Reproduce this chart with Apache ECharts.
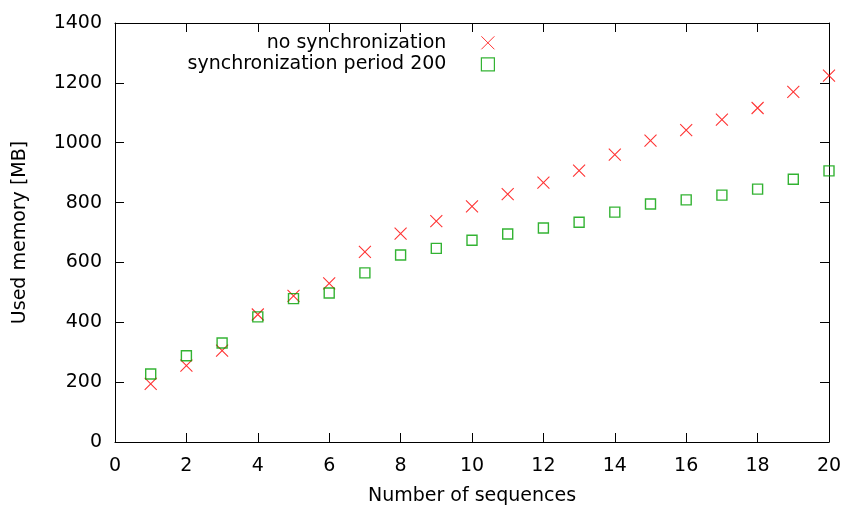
<!DOCTYPE html>
<html>
<head>
<meta charset="utf-8">
<style>
  html, body { margin: 0; padding: 0; background: #fff; }
  #chart { width: 845px; height: 511px; }
</style>
<script src="https://cdn.jsdelivr.net/npm/echarts@6/dist/echarts.min.js"></script>
</head>
<body>
<div id="chart"></div>
<script>
// Number of sequences processed
var sequences = [1, 2, 3, 4, 5, 6, 7, 8, 9, 10, 11, 12, 13, 14, 15, 16, 17, 18, 19, 20];
// Used memory [MB] without synchronization
var memNoSync = [194, 255, 305, 426, 488, 530, 635, 696, 738, 787, 828, 867, 907, 960, 1007, 1042, 1077, 1116, 1170, 1224];
// Used memory [MB] with synchronization period 200
var memSync200 = [227, 288, 331, 418, 479, 498, 565, 625, 647, 674, 695, 715, 734, 768, 795, 809, 825, 845, 878, 906];

var seriesNames = ['no synchronization', 'synchronization period 200'];
var xTicks = { min: 0, max: 20, interval: 2 };
var yTicks = { min: 0, max: 1400, interval: 200 };

var FONT = 'DejaVu Sans';
var FS = 19;
var CROSS = 'path://M0,0L10,10M10,0L0,10';
var SQUARE = 'path://M0,0H10V10H0Z';

function pairs(xs, ys) {
  return xs.map(function (x, i) { return [x, ys[i]]; });
}

function plain(v) { return String(v); }

function frameAxis(base, extra) {
  var a = {
    type: 'value',
    min: base.min, max: base.max, interval: base.interval,
    axisLine: { show: true, onZero: false, lineStyle: { color: '#000', width: 1 } },
    axisTick: { show: true, inside: true, length: 9, lineStyle: { color: '#000', width: 1 } },
    splitLine: { show: false },
    axisLabel: { show: false }
  };
  for (var k in extra) a[k] = extra[k];
  return a;
}

var chart = echarts.init(document.getElementById('chart'), null, { renderer: 'canvas' });

chart.setOption({
  animation: false,
  backgroundColor: '#fff',
  textStyle: { fontFamily: FONT },
  grid: { left: 115, right: 16, top: 23, bottom: 67, containLabel: false },
  legend: {
    orient: 'vertical',
    align: 'right',
    right: 345,
    top: 27,
    itemWidth: 13,
    itemHeight: 13,
    itemGap: 0,
    selectedMode: false,
    textStyle: { fontFamily: FONT, fontSize: FS, color: '#000', lineHeight: 21.6, padding: [0, 30, 0, 0] },
    data: [
      { name: seriesNames[0], icon: CROSS, itemStyle: { color: 'rgba(0,0,0,0)', borderColor: '#ff0000', borderWidth: 1 } },
      { name: seriesNames[1], icon: SQUARE, itemStyle: { color: 'rgba(0,0,0,0)', borderColor: '#00a000', borderWidth: 1.2 } }
    ]
  },
  xAxis: [
    frameAxis(xTicks, {
      position: 'bottom',
      name: 'Number of sequences',
      nameLocation: 'middle',
      nameGap: 45,
      nameTextStyle: { fontFamily: FONT, fontSize: FS, color: '#000' },
      axisLabel: { show: true, margin: 15, fontFamily: FONT, fontSize: FS, color: '#000', formatter: plain }
    }),
    frameAxis(xTicks, { position: 'top' })
  ],
  yAxis: [
    frameAxis(yTicks, {
      position: 'left',
      name: 'Used memory [MB]',
      nameLocation: 'middle',
      nameGap: 85,
      nameTextStyle: { fontFamily: FONT, fontSize: FS, color: '#000' },
      axisLabel: { show: true, margin: 13, fontFamily: FONT, fontSize: FS, color: '#000', formatter: plain }
    }),
    frameAxis(yTicks, { position: 'right' })
  ],
  series: [
    {
      name: seriesNames[0],
      type: 'scatter',
      symbol: CROSS,
      symbolSize: 12,
      itemStyle: { color: 'rgba(0,0,0,0)', borderColor: '#ff0000', borderWidth: 1.1 },
      data: pairs(sequences, memNoSync)
    },
    {
      name: seriesNames[1],
      type: 'scatter',
      symbol: 'rect',
      symbolSize: 10,
      itemStyle: { color: 'rgba(0,0,0,0)', borderColor: '#00a000', borderWidth: 1.4 },
      data: pairs(sequences, memSync200)
    }
  ]
});
</script>
</body>
</html>
